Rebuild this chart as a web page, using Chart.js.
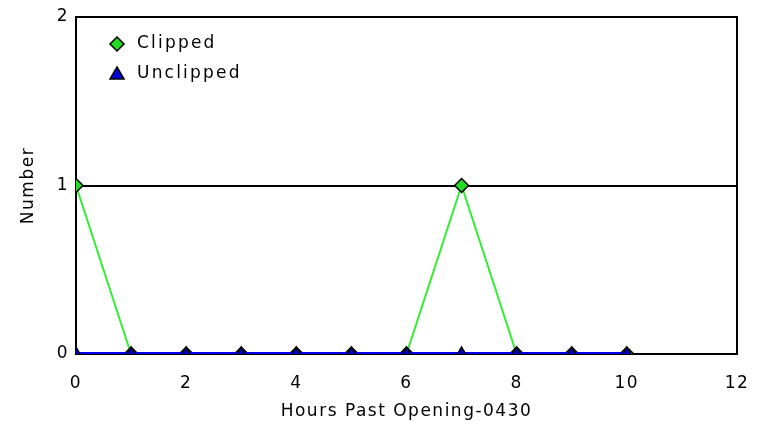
<!DOCTYPE html>
<html><head><meta charset="utf-8">
<script src="https://cdn.jsdelivr.net/npm/chart.js@4"></script>
<style>html,body{margin:0;padding:0;background:#fff}#wrap{width:759px;height:427px}</style>
</head><body><div id="wrap"><canvas id="c" width="759" height="427"></canvas></div>
<script>
const hours = [0,1,2,3,4,5,6,7,8,9,10];
const clipped = [1,0,0,0,0,0,0,1,0,0,0];
const unclipped = [0,0,0,0,0,0,0,0,0,0,0];
const xTicks = [0,2,4,6,8,10,12];
const yTicks = [0,1,2];
const seriesNames = ['Clipped','Unclipped'];
const xTitle = 'Hours Past Opening-0430';
const yTitle = 'Number';

const FONT = 'DejaVu Sans';
const SPACING = '1.5px';

const spacing = {
  id:'spacing',
  beforeUpdate(chart){ chart.ctx.letterSpacing = SPACING; },
  beforeDraw(chart){ chart.ctx.letterSpacing = SPACING; }
};

const frame = {
  id:'frame',
  beforeDatasetsDraw(chart){
    const {ctx, chartArea:a} = chart;
    ctx.save();
    ctx.strokeStyle = '#000'; ctx.lineWidth = 2;
    ctx.strokeRect(a.left, a.top, a.right-a.left, a.bottom-a.top);
    ctx.restore();
  },
  afterDatasetsDraw(chart){
    const {ctx} = chart;
    ctx.save();
    ctx.font = '17px "' + FONT + '"';
    ctx.letterSpacing = '2.2px';
    ctx.textBaseline = 'middle'; ctx.textAlign = 'left';
    const lx = 117, ly = [44, 74];
    ctx.beginPath();
    ctx.moveTo(lx, ly[0]-7); ctx.lineTo(lx+7, ly[0]); ctx.lineTo(lx, ly[0]+7); ctx.lineTo(lx-7, ly[0]); ctx.closePath();
    ctx.fillStyle = '#22dd22'; ctx.fill(); ctx.lineWidth = 1.5; ctx.strokeStyle = '#000'; ctx.stroke();
    ctx.beginPath();
    ctx.moveTo(lx, ly[1]-7); ctx.lineTo(lx+7, ly[1]+5); ctx.lineTo(lx-7, ly[1]+5); ctx.closePath();
    ctx.fillStyle = '#0000dd'; ctx.fill(); ctx.strokeStyle = '#000'; ctx.stroke();
    ctx.fillStyle = '#000';
    ctx.fillText(seriesNames[0], 137, ly[0]);
    ctx.fillText(seriesNames[1], 137, ly[1]);
    ctx.restore();
  }
};

new Chart(document.getElementById('c'), {
  type:'line',
  data:{
    datasets:[
      {label:seriesNames[1], data:hours.map((h,i)=>({x:h,y:unclipped[i]})),
       borderColor:'#0000ee', borderWidth:4, pointStyle:'triangle', pointRadius:7,
       pointBackgroundColor:'#0000cc', pointBorderColor:'#000', pointBorderWidth:1.5, order:0, clip:0},
      {label:seriesNames[0], data:hours.map((h,i)=>({x:h,y:clipped[i]})),
       borderColor:'#33ee33', borderWidth:2, pointStyle:'rectRot', pointRadius:7,
       pointBackgroundColor:'#22dd22', pointBorderColor:'#000', pointBorderWidth:1.5, order:1, clip:0}
    ]
  },
  options:{
    responsive:false, animation:false,
    layout:{padding:{top:17,right:22,left:0,bottom:0}},
    plugins:{legend:{display:false}, tooltip:{enabled:false}},
    scales:{
      x:{type:'linear', min:0, max:12,
        afterBuildTicks(s){ s.ticks = xTicks.map(v=>({value:v})); },
        afterFit(s){ s.height = 73; s.paddingLeft = 0; s.paddingRight = 0; },
        grid:{display:false, drawTicks:false}, border:{display:false},
        ticks:{color:'#000', padding:19, maxRotation:0, font:{family:FONT, size:17}},
        title:{display:true, text:xTitle, color:'#000', font:{family:FONT, size:17}, padding:{top:4,bottom:5}}
      },
      y:{min:0, max:2,
        afterBuildTicks(s){ s.ticks = yTicks.map(v=>({value:v})); },
        afterFit(s){ s.width = 76; s.paddingTop = 0; s.paddingBottom = 0; },
        grid:{color:'#000', lineWidth:2, drawTicks:false}, border:{display:false},
        ticks:{color:'#000', padding:7, font:{family:FONT, size:17}},
        title:{display:true, text:yTitle, color:'#000', font:{family:FONT, size:17}, padding:{top:18,bottom:4}}
      }
    }
  },
  plugins:[spacing, frame]
});
</script></body></html>
